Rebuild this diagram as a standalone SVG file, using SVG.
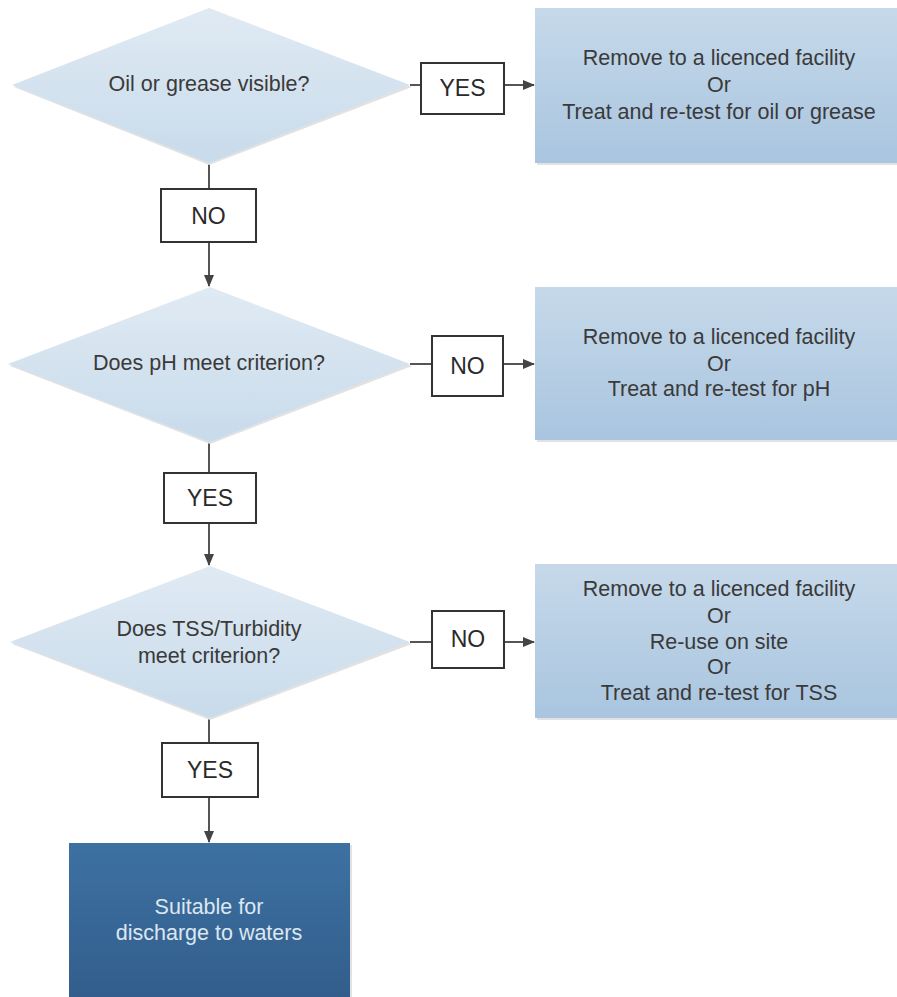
<svg xmlns="http://www.w3.org/2000/svg" width="897" height="997" viewBox="0 0 897 997">
<defs>
<linearGradient id="gD" x1="0" y1="0" x2="0" y2="1"><stop offset="0" stop-color="#e0eaf3"/><stop offset="1" stop-color="#c8dbeb"/></linearGradient>
<linearGradient id="gB" x1="0" y1="0" x2="0" y2="1"><stop offset="0" stop-color="#c6d9ea"/><stop offset="1" stop-color="#a9c5df"/></linearGradient>
<linearGradient id="gF" x1="0" y1="0" x2="0" y2="1"><stop offset="0" stop-color="#3d71a2"/><stop offset="1" stop-color="#325d8b"/></linearGradient>
<marker id="ah" markerWidth="12" markerHeight="12" refX="11" refY="6" orient="auto" markerUnits="userSpaceOnUse"><path d="M0,1 L12,6 L0,11 Z" fill="#444"/></marker>
</defs>
<style>
.dia{fill:url(#gD)}
.sh{fill:#e2e2e2}
.box{fill:url(#gB)}
.lbl{fill:#fff;stroke:#333;stroke-width:2}
.t{font-family:"Liberation Sans",Arial,sans-serif;font-size:21.5px;fill:#3a3a3a;text-anchor:middle}
.lt{font-family:"Liberation Sans",Arial,sans-serif;font-size:23px;fill:#2a2a2a;text-anchor:middle}
.ft{font-family:"Liberation Sans",Arial,sans-serif;font-size:21.5px;fill:#dce7f1;text-anchor:middle}
.c{stroke:#555;stroke-width:2;fill:none}
</style>

<g id="connectors">
<line class="c" x1="410" y1="85" x2="421" y2="85"/>
<line class="c" x1="504" y1="85" x2="534" y2="85" marker-end="url(#ah)"/>
<line class="c" x1="209" y1="162" x2="209" y2="189"/>
<line class="c" x1="209" y1="242" x2="209" y2="286" marker-end="url(#ah)"/>
<line class="c" x1="410" y1="364" x2="432" y2="364"/>
<line class="c" x1="503" y1="364" x2="534" y2="364" marker-end="url(#ah)"/>
<line class="c" x1="209" y1="441" x2="209" y2="473"/>
<line class="c" x1="209" y1="523" x2="209" y2="565" marker-end="url(#ah)"/>
<line class="c" x1="410" y1="642" x2="432" y2="642"/>
<line class="c" x1="504" y1="642" x2="534" y2="642" marker-end="url(#ah)"/>
<line class="c" x1="209" y1="718" x2="209" y2="743"/>
<line class="c" x1="209" y1="797" x2="209" y2="842" marker-end="url(#ah)"/>
</g>

<g id="d1">
<polygon class="sh" points="209,10 412,87 209,165 14,87"/>
<polygon class="dia" points="209,8 410,85 209,163 12,85"/>
<text class="t" x="209" y="91">Oil or grease visible?</text>
</g>
<g id="yes1">
<rect class="lbl" x="421" y="63" width="83" height="51"/>
<text class="lt" x="462.5" y="96">YES</text>
</g>
<g id="r1">
<rect class="sh" x="537" y="10" width="370" height="155"/>
<rect class="box" x="535" y="8" width="370" height="155"/>
<text class="t" x="719" y="65">Remove to a licenced facility</text>
<text class="t" x="719" y="92">Or</text>
<text class="t" x="719" y="119">Treat and re-test for oil or grease</text>
</g>
<g id="no1">
<rect class="lbl" x="161" y="189" width="95" height="53"/>
<text class="lt" x="208.5" y="224">NO</text>
</g>

<g id="d2">
<polygon class="sh" points="210,289 412,366 210,444 10,366"/>
<polygon class="dia" points="210,287 410,364 210,442 8,364"/>
<text class="t" x="209" y="370">Does pH meet criterion?</text>
</g>
<g id="no2">
<rect class="lbl" x="432" y="336" width="71" height="60"/>
<text class="lt" x="467.5" y="374">NO</text>
</g>
<g id="r2">
<rect class="sh" x="537" y="289" width="370" height="153"/>
<rect class="box" x="535" y="287" width="370" height="153"/>
<text class="t" x="719" y="344">Remove to a licenced facility</text>
<text class="t" x="719" y="371">Or</text>
<text class="t" x="719" y="396">Treat and re-test for pH</text>
</g>
<g id="yes2">
<rect class="lbl" x="164" y="473" width="92" height="50"/>
<text class="lt" x="210" y="506">YES</text>
</g>

<g id="d3">
<polygon class="sh" points="210,568 412,644 210,720 12,644"/>
<polygon class="dia" points="210,566 410,642 210,718 10,642"/>
<text class="t" x="209" y="636">Does TSS/Turbidity</text>
<text class="t" x="209" y="663">meet criterion?</text>
</g>
<g id="no3">
<rect class="lbl" x="432" y="611" width="72" height="57"/>
<text class="lt" x="468" y="647">NO</text>
</g>
<g id="r3">
<rect class="sh" x="537" y="566" width="370" height="154"/>
<rect class="box" x="535" y="564" width="370" height="154"/>
<text class="t" x="719" y="596">Remove to a licenced facility</text>
<text class="t" x="719" y="623">Or</text>
<text class="t" x="719" y="649">Re-use on site</text>
<text class="t" x="719" y="674">Or</text>
<text class="t" x="719" y="700">Treat and re-test for TSS</text>
</g>
<g id="yes3">
<rect class="lbl" x="162" y="743" width="96" height="54"/>
<text class="lt" x="210" y="778">YES</text>
</g>

<g id="final">
<rect class="sh" x="71" y="845" width="281" height="160"/>
<rect x="69" y="843" width="281" height="160" fill="url(#gF)"/>
<text class="ft" x="209" y="914">Suitable for</text>
<text class="ft" x="209" y="940">discharge to waters</text>
</g>
</svg>
